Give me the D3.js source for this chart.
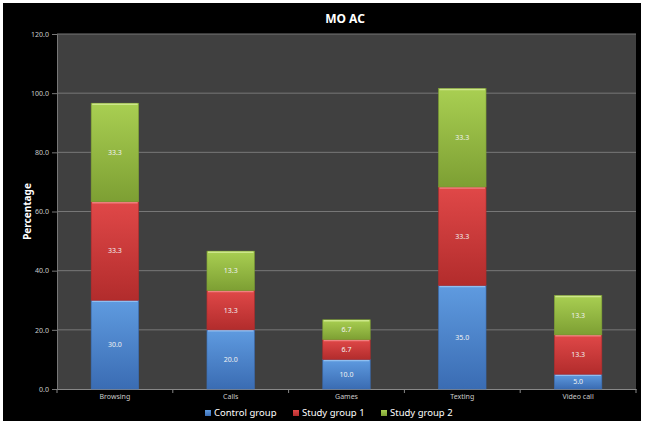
<!DOCTYPE html>
<html>
<head>
<meta charset="utf-8">
<script src="https://cdn.jsdelivr.net/npm/d3@7"></script>
<style>
  body { margin: 0; background: #fff; }
  text { font-family: "Liberation Sans Narrow", "Noto Sans", sans-serif; }
</style>
</head>
<body>
<div id="chart"></div>
<script>
const categories = ["Browsing", "Calls", "Games", "Texting", "Video call"];
const seriesNames = ["Control group", "Study group 1", "Study group 2"];
const controlGroup = [30.0, 20.0, 10.0, 35.0, 5.0];
const studyGroup1 = [33.3, 13.3, 6.7, 33.3, 13.3];
const studyGroup2 = [33.3, 13.3, 6.7, 33.3, 13.3];
const yTicks = [0, 20, 40, 60, 80, 100, 120];

const colors = [
  { top: "#5f9be0", bottom: "#3a6cb3", edge: "#8fbef0" },
  { top: "#e04848", bottom: "#b22c2c", edge: "#f08080" },
  { top: "#a9cf52", bottom: "#7d9f33", edge: "#cde78a" },
];

const svgWidth = 646;
const svgHeight = 424;
const margin = { top: 34, right: 10, bottom: 35, left: 57 };
const width = 636 - margin.left;
const height = 389 - margin.top;

const svg = d3
  .select("#chart")
  .append("svg")
  .attr("width", svgWidth)
  .attr("height", svgHeight);

// black chart background
svg.append("rect")
  .attr("x", 3).attr("y", 3)
  .attr("width", 638).attr("height", 418)
  .attr("fill", "#000");

const defs = svg.append("defs");
colors.forEach((c, i) => {
  const g = defs.append("linearGradient")
    .attr("id", "grad" + i)
    .attr("x1", 0).attr("y1", 0).attr("x2", 0).attr("y2", 1);
  g.append("stop").attr("offset", "0%").attr("stop-color", c.top);
  g.append("stop").attr("offset", "100%").attr("stop-color", c.bottom);
});

const g = svg.append("g")
  .attr("transform", "translate(" + margin.left + "," + margin.top + ")");

g.append("rect")
  .attr("width", width)
  .attr("height", height)
  .attr("fill", "#404040");

const xScale = d3.scaleBand()
  .domain(categories)
  .range([0, width])
  .paddingInner(0.59)
  .paddingOuter(0.295);

const yScale = d3.scaleLinear()
  .domain([0, 120])
  .range([height, 0]);

// gridlines
g.selectAll("line.grid")
  .data(yTicks.slice(1))
  .enter()
  .append("line")
  .attr("class", "grid")
  .attr("x1", 0).attr("x2", width)
  .attr("y1", (d) => yScale(d)).attr("y2", (d) => yScale(d))
  .attr("stroke", "#777").attr("stroke-width", 1);

// y axis
const yAxis = g.append("g")
  .call(d3.axisLeft(yScale).tickValues(yTicks).tickFormat(d3.format(".1f")).tickSize(5).tickPadding(3));
yAxis.selectAll("text").attr("fill", "#ccc").attr("font-size", 7);
yAxis.selectAll("line").attr("stroke", "#777");
yAxis.select(".domain").attr("stroke", "#777");

// x axis
const xAxis = g.append("g")
  .attr("transform", "translate(0," + height + ")")
  .call(d3.axisBottom(xScale).tickSize(0).tickPadding(5));
xAxis.selectAll("text").attr("fill", "#ccc").attr("font-size", 7);
xAxis.select(".domain").attr("stroke", "#888");

// category separators
g.selectAll("line.sep")
  .data(d3.range(categories.length + 1))
  .enter()
  .append("line")
  .attr("class", "sep")
  .attr("x1", (d) => d * width / categories.length)
  .attr("x2", (d) => d * width / categories.length)
  .attr("y1", height).attr("y2", height + 4)
  .attr("stroke", "#888");

const rows = categories.map((c, i) => ({
  category: c,
  "Control group": controlGroup[i],
  "Study group 1": studyGroup1[i],
  "Study group 2": studyGroup2[i],
}));

const stacked = d3.stack().keys(seriesNames)(rows);

stacked.forEach((layer, si) => {
  const lg = g.append("g");
  lg.selectAll("rect")
    .data(layer)
    .enter()
    .append("rect")
    .attr("x", (d) => xScale(d.data.category))
    .attr("y", (d) => yScale(d[1]))
    .attr("width", xScale.bandwidth())
    .attr("height", (d) => yScale(d[0]) - yScale(d[1]))
    .attr("fill", "url(#grad" + si + ")")
    .attr("stroke", colors[si].bottom)
    .attr("stroke-width", 0.6);

  lg.selectAll("line.hl")
    .data(layer)
    .enter()
    .append("line")
    .attr("class", "hl")
    .attr("x1", (d) => xScale(d.data.category) + 1)
    .attr("x2", (d) => xScale(d.data.category) + xScale.bandwidth() - 1)
    .attr("y1", (d) => yScale(d[1]) + 1)
    .attr("y2", (d) => yScale(d[1]) + 1)
    .attr("stroke", colors[si].edge)
    .attr("stroke-width", 1.5);

  lg.selectAll("text")
    .data(layer)
    .enter()
    .append("text")
    .text((d) => d3.format(".1f")(d[1] - d[0]))
    .attr("x", (d) => xScale(d.data.category) + xScale.bandwidth() / 2)
    .attr("y", (d) => (yScale(d[0]) + yScale(d[1])) / 2 + 2.5)
    .attr("text-anchor", "middle")
    .attr("fill", "#f2f2f2")
    .attr("font-size", 7);
});

// title
svg.append("text")
  .text("MO AC")
  .attr("x", 345).attr("y", 23)
  .attr("text-anchor", "middle")
  .attr("fill", "#fff")
  .attr("font-size", 12)
  .attr("font-weight", "bold");

// y label
svg.append("text")
  .text("Percentage")
  .attr("transform", "translate(31," + (margin.top + height / 2) + ") rotate(-90)")
  .attr("text-anchor", "middle")
  .attr("fill", "#fff")
  .attr("font-size", 10)
  .attr("font-weight", "bold");

// legend
const legendX = [205, 293, 381];
const legend = svg.selectAll("g.legend")
  .data(seriesNames)
  .enter()
  .append("g")
  .attr("class", "legend")
  .attr("transform", (d, i) => "translate(" + legendX[i] + ",416)");

legend.append("rect")
  .attr("x", 0).attr("y", -6)
  .attr("width", 6).attr("height", 6)
  .attr("fill", (d, i) => "url(#grad" + i + ")");

legend.append("text")
  .text((d) => d)
  .attr("x", 9).attr("y", 0)
  .attr("fill", "#fff")
  .attr("font-size", 9.5);
</script>
</body>
</html>
